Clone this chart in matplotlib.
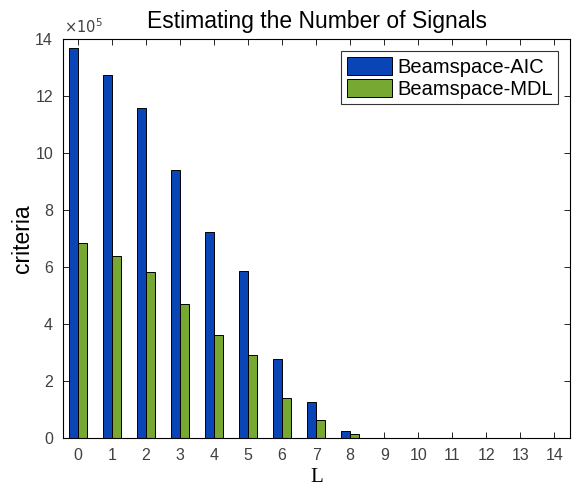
import matplotlib
matplotlib.use("Agg")
import matplotlib.pyplot as plt
from matplotlib.ticker import FuncFormatter, MultipleLocator
import numpy as np

# Criterion values per candidate number of signals L
L_values = list(range(15))
aic = [13.68e5, 12.76e5, 11.57e5, 9.40e5, 7.23e5, 5.86e5, 2.76e5, 1.27e5, 0.25e5,
       0, 0, 0, 0, 0, 0]
mdl = [6.84e5, 6.39e5, 5.82e5, 4.69e5, 3.63e5, 2.91e5, 1.39e5, 0.62e5, 0.13e5,
       0, 0, 0, 0, 0, 0]
series_names = ["Beamspace-AIC", "Beamspace-MDL"]
series_colors = ["#0a45b8", "#76a832"]

plt.rcParams["font.family"] = ["Liberation Sans", "DejaVu Sans"]

fig = plt.figure(figsize=(5.76, 4.9), dpi=100)
ax = fig.add_axes([0.109, 0.106, 0.881, 0.814])

x = np.array(L_values)
w = 0.27
ax.bar(x - w / 2, aic, width=w, color=series_colors[0], edgecolor="black",
       linewidth=0.7, label=series_names[0])
ax.bar(x + w / 2, mdl, width=w, color=series_colors[1], edgecolor="black",
       linewidth=0.7, label=series_names[1])

ax.set_xlim(-0.45, 14.47)
ax.set_ylim(0, 14e5)
ax.set_xticks(L_values)
ax.yaxis.set_major_locator(MultipleLocator(2e5))
ax.yaxis.set_major_formatter(FuncFormatter(lambda v, p: f"{v / 1e5:g}"))

ax.tick_params(direction="in", top=True, right=True, length=4, width=0.6,
               labelsize=11.5, labelcolor="#404040", pad=7)
for s in ax.spines.values():
    s.set_linewidth(0.8)

ax.text(0.003, 1.008, r"$\times10^5$", transform=ax.transAxes, fontsize=10.5,
        color="#404040", ha="left", va="bottom")

ax.set_title("Estimating the Number of Signals", fontsize=16.5, pad=8)
ax.set_ylabel("criteria", fontsize=16.5, labelpad=1)
ax.set_xlabel("L", fontsize=15, family=["Liberation Serif", "DejaVu Serif"],
              labelpad=4)

leg = ax.legend(loc="upper right", fontsize=14.5, frameon=True, fancybox=False,
                edgecolor="black", borderpad=0.28, handlelength=2.25,
                handleheight=1.0, handletextpad=0.25, labelspacing=0.1,
                borderaxespad=0.6)
leg.get_frame().set_linewidth(0.8)

fig.savefig("out.png", dpi=100)
